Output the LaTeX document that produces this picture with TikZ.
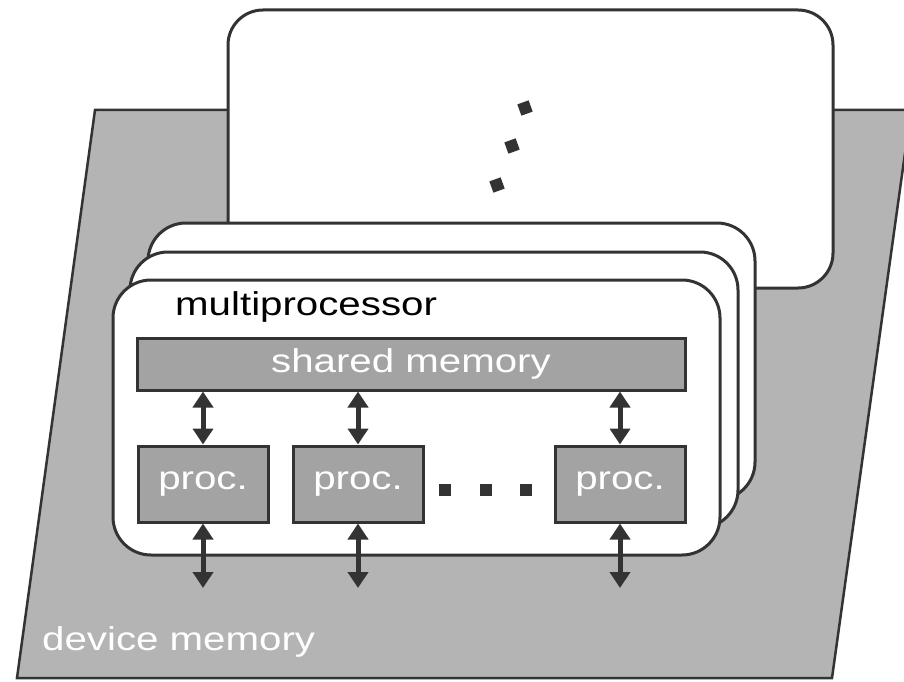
\documentclass[tikz,border=0pt]{standalone}
\usepackage{fontspec}
\setmainfont{Liberation Sans}
\usepackage{graphicx}
\usetikzlibrary{arrows.meta,positioning}
\definecolor{ink}{HTML}{333333}
\definecolor{devfill}{HTML}{B4B4B4}
\definecolor{boxfill}{HTML}{A3A3A3}
\newcommand{\wlbl}[1]{\scalebox{1.22}[1]{#1}}

\begin{document}
\begin{tikzpicture}[x=1pt, y=-1pt,
  every node/.style={font=\fontsize{33}{36}\selectfont, inner sep=0pt},
  card/.style={draw=ink, line width=3pt, fill=white, rounded corners=38pt},
  unit/.style={draw=ink, line width=3pt, fill=boxfill, text=white},
  dblarrow/.style={{Triangle[width=20pt,length=16pt]}-{Triangle[width=20pt,length=16pt]}, line width=5pt, ink},
  dotbox/.style={fill=ink, minimum size=12pt}]
\useasboundingbox (0,0) rectangle (904,682);
\clip (0,0) rectangle (904,682);
% device memory plane
\draw[ink, line width=2.5pt, fill=devfill] (95,110) -- (911,110) -- (832,678) -- (17,678) -- cycle;
% stack of multiprocessors
\draw[card, rounded corners=35pt] (228,10) rectangle (833,288);
\draw[card] (148,223) rectangle (755,500);
\draw[card] (130,252) rectangle (738,528);
\draw[card] (113,280) rectangle (720,555);
% front multiprocessor
\node[anchor=base west] (mp) at (175,315) {\wlbl{multiprocessor}};
\node[unit, minimum width=548pt, minimum height=52pt] (shm) at (411,364) {\wlbl{shared memory}};
\node[unit, minimum width=130pt, minimum height=76pt] (p1) at (203,484) {\wlbl{proc.}};
\node[unit, minimum width=130pt, minimum height=76pt] (p2) at (358,484) {\wlbl{proc.}};
\node[unit, minimum width=130pt, minimum height=76pt] (p3) at (620,484) {\wlbl{proc.}};
\coordinate (dm) at (0,588);
\foreach \p in {p1,p2,p3} {
  \draw[dblarrow] (\p.north) -- (\p.north |- shm.south);
  \draw[dblarrow] (\p.south) -- (\p.south |- dm);
}
% dots
\foreach \x [count=\i] in {445,486,526}
  \node[dotbox] (hd\i) at (\x,490) {};
\foreach \x/\y [count=\i] in {525/108,512/146,497/185}
  \node[dotbox, rotate=20] (vd\i) at (\x,\y) {};
\node[anchor=base west, text=white] (dev) at (42,650) {\wlbl{device memory}};
\end{tikzpicture}
\end{document}
